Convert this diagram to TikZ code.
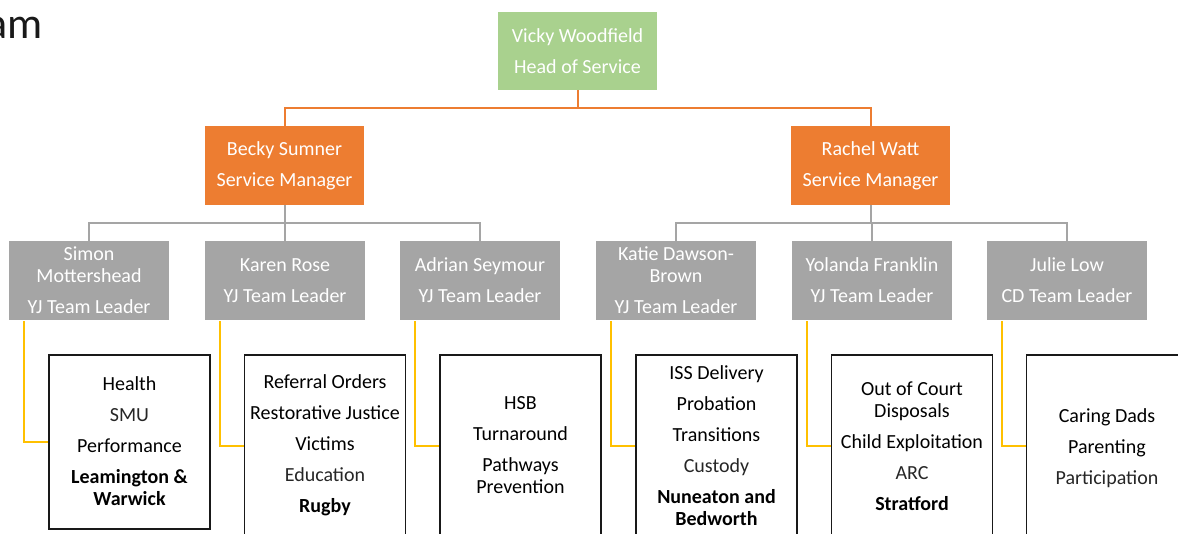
\documentclass[tikz,border=0pt]{standalone}
\usepackage{fontspec}
\setmainfont{Carlito}
\definecolor{hgreen}{HTML}{A9D18E}
\definecolor{horange}{HTML}{ED7D31}
\definecolor{hgrey}{HTML}{A5A5A5}
\definecolor{hyellow}{HTML}{FFC000}
\definecolor{hline}{HTML}{A5A5A5}
\definecolor{lite}{HTML}{262626}
\newcommand\fstrut{\rule{0pt}{15pt}}
\newcommand\lt[1]{\textcolor{lite}{#1}}
\begin{document}
\begin{tikzpicture}[x=1pt,y=-1pt,
  boxtxt/.style={align=center,font=\fontsize{20}{22}\selectfont,text=white,inner sep=0pt,minimum width=160pt,minimum height=79pt},
  headbox/.style={boxtxt,fill=hgreen},
  mgrbox/.style={boxtxt,fill=horange},
  leadbox/.style={boxtxt,fill=hgrey},
  dutybox/.style={draw=black!90,line width=1.8pt,fill=white,minimum width=161pt,inner sep=0pt},
  dutytxt/.style={align=center,font=\fontsize{20}{22}\selectfont,inner sep=0pt,anchor=north,text=black},
  orangeline/.style={draw=horange,line width=2pt},
  greyline/.style={draw=hline,line width=2pt},
  yellowline/.style={draw=hyellow,line width=1.8pt},
]
\useasboundingbox (0,0) rectangle (1178,533);
\clip (0,0) rectangle (1178,533);

% title fragment
\node[anchor=base east,inner sep=0pt,font=\fontsize{44}{50}\selectfont,text=black!90] (title) at (43,38) {am};

% boxes
\node[headbox,minimum width=159pt,minimum height=78pt] (vw) at (577.5,51) {Vicky Woodfield\\[9pt]Head of Service};
\node[mgrbox,minimum width=159pt] (bs) at (284.5,165.5) {Becky Sumner\\[9pt]Service Manager};
\node[mgrbox,minimum width=159pt] (rw) at (870.5,165.5) {Rachel Watt\\[9pt]Service Manager};

\node[leadbox] (l1) at (89,280.5) {Simon\\Mottershead\\[9pt]YJ Team Leader};
\node[leadbox] (l2) at (285,280.5) {Karen Rose\\[9pt]YJ Team Leader};
\node[leadbox] (l3) at (480,280.5) {Adrian Seymour\\[9pt]YJ Team Leader};
\node[leadbox] (l4) at (676,280.5) {Katie Dawson-\\Brown\\[9pt]YJ Team Leader};
\node[leadbox] (l5) at (872,280.5) {Yolanda Franklin\\[9pt]YJ Team Leader};
\node[leadbox] (l6) at (1067,280.5) {Julie Low\\[9pt]CD Team Leader};

\node[dutybox,minimum height=174pt] (d1) at (129.5,442) {};
\node[dutybox,minimum height=182pt] (d2) at (325,446) {};
\node[dutybox,minimum height=182pt] (d3) at (520.5,446) {};
\node[dutybox,minimum height=182pt] (d4) at (716.5,446) {};
\node[dutybox,minimum height=182pt] (d5) at (912,446) {};
\node[dutybox,minimum height=182pt] (d6) at (1107,446) {};

\node[dutytxt] (t1) at (129.5,375) {\fstrut Health\\[9pt]\lt{SMU}\\[9pt]Performance\\[9pt]\textbf{Leamington \&}\\ \textbf{Warwick}};
\node[dutytxt] (t2) at (325,373) {\fstrut Referral Orders\\[9pt]Restorative Justice\\[9pt]Victims\\[9pt]\lt{Education}\\[9pt]\textbf{Rugby}};
\node[dutytxt] (t3) at (520.5,394) {\fstrut HSB\\[9pt]Turnaround\\[9pt]Pathways\\Prevention};
\node[dutytxt] (t4) at (716.5,364) {\fstrut ISS Delivery\\[9pt]Probation\\[9pt]Transitions\\[9pt]\lt{Custody}\\[9pt]\textbf{Nuneaton and}\\ \textbf{Bedworth}};
\node[dutytxt] (t5) at (912,380) {\fstrut Out of Court\\Disposals\\[9pt]Child Exploitation\\[9pt]\lt{ARC}\\[9pt]\textbf{Stratford}};
\node[dutytxt] (t6) at (1107,407) {\fstrut Caring Dads\\[9pt]Parenting\\[9pt]\lt{Participation}};

% connectors
\coordinate (ob) at (577.5,107.5);
\draw[orangeline] (vw.south) -- (ob);
\draw[orangeline] (ob) -| (bs.north);
\draw[orangeline] (ob) -| (rw.north);

\coordinate (gb1) at (284.5,223);
\draw[greyline] (bs.south) -- (gb1);
\draw[greyline] (gb1) -| (l1.north);
\draw[greyline] (gb1) -| (l2.north);
\draw[greyline] (gb1) -| (l3.north);
\coordinate (gb2) at (870.5,223);
\draw[greyline] (rw.south) -- (gb2);
\draw[greyline] (gb2) -| (l4.north);
\draw[greyline] (gb2) -| (l5.north);
\draw[greyline] (gb2) -| (l6.north);

\foreach \i in {1,...,6}{
  \draw[yellowline] ([xshift=15pt,yshift=-1pt]l\i.south west) |- (d\i.west);
}
\end{tikzpicture}
\end{document}
